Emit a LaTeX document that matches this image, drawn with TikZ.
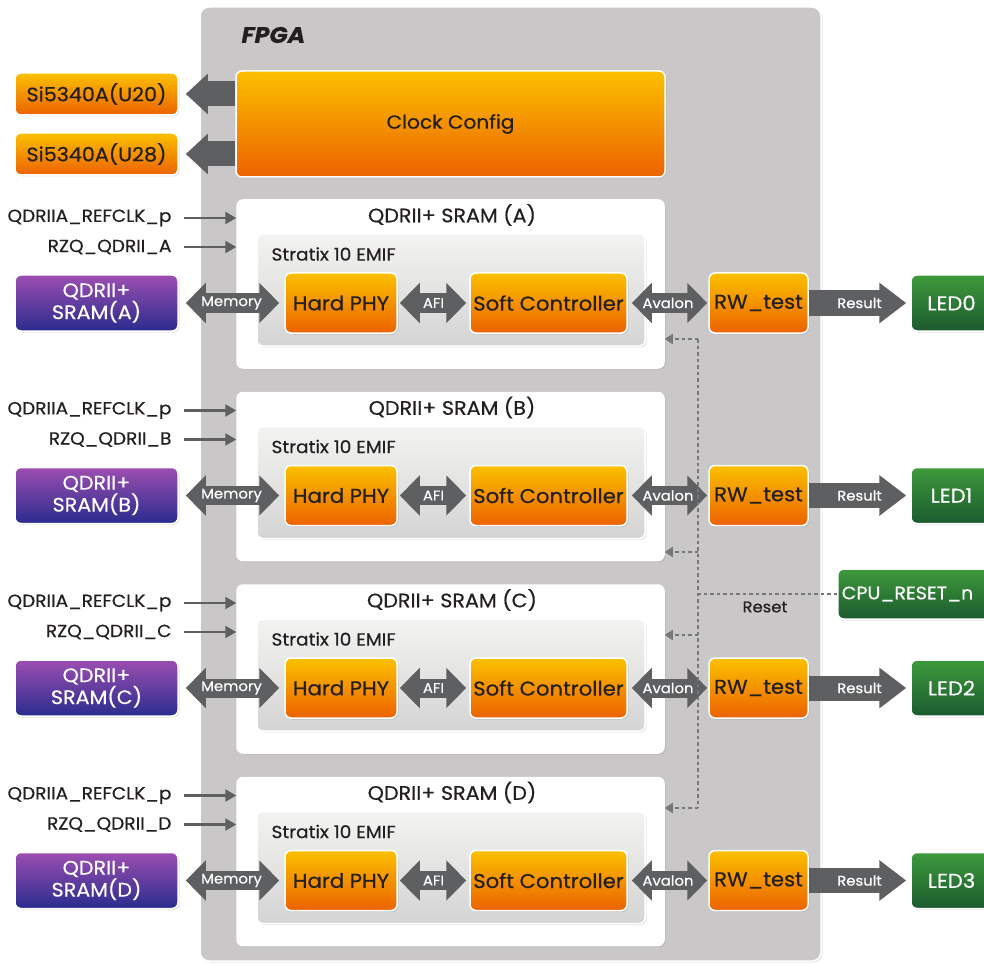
\documentclass[tikz,border=0pt]{standalone}
\usepackage{fontspec}
\setmainfont{Poppins}[FakeStretch=1.06, FakeBold=0.5]
\usetikzlibrary{arrows.meta, shadows}

\definecolor{fpgagray}{HTML}{C9C7C7}
\definecolor{arrowgray}{HTML}{5E5F61}
\definecolor{txtdark}{HTML}{231F20}
\definecolor{orangetop}{HTML}{FBC000}
\definecolor{orangebot}{HTML}{EC6200}
\definecolor{purpletop}{HTML}{9C4EB1}
\definecolor{purplebot}{HTML}{2A2C8E}
\definecolor{greentop}{HTML}{3E9A3B}
\definecolor{greenbot}{HTML}{1B5A2F}
\definecolor{emiftop}{HTML}{F3F3F1}
\definecolor{emifbot}{HTML}{D4D4D4}

\begin{document}
\begin{tikzpicture}[x=1pt, y=-1pt,
    box/.style={rectangle, rounded corners=6pt, inner sep=0pt, draw=white, line width=1.5pt,
        drop shadow={opacity=0.2, shadow xshift=1.5pt, shadow yshift=-1.5pt}},
    orangebox/.style={box, top color=orangetop, bottom color=orangebot, text=txtdark,
        minimum height=60pt, font=\fontsize{20}{24}\selectfont},
    purplebox/.style={box, top color=purpletop, bottom color=purplebot, text=white, align=center,
        minimum width=163pt, minimum height=56pt, font=\fontsize{19.5}{22}\selectfont},
    greenbox/.style={box, top color=greentop, bottom color=greenbot, text=white,
        minimum height=56pt, font=\fontsize{20}{24}\selectfont},
    srambox/.style={box, fill=white, minimum width=427pt, minimum height=168pt},
    emifbox/.style={box, top color=emiftop, bottom color=emifbot, minimum width=388pt, minimum height=112pt},
    titlelbl/.style={text=txtdark, font=\fontsize{19.5}{22}\selectfont},
    emiflbl/.style={anchor=west, text=txtdark, font=\fontsize{17.5}{20}\selectfont},
    inlabel/.style={anchor=east, text=txtdark, font=\fontsize{17.5}{20}\selectfont},
    bigarrow/.style={draw=arrowgray, line width=25pt, -{Triangle[length=22pt, width=39pt]}},
    resultarrow/.style={draw=arrowgray, line width=25pt, -{Triangle[length=27pt, width=39pt]}},
    dblarrow/.style={draw=arrowgray, line width=19pt,
        {Triangle[length=20pt, width=39pt]}-{Triangle[length=20pt, width=39pt]}},
    arrowlbl/.style={text=white, font=\fontsize{14}{16}\selectfont},
    inarrow/.style={draw=arrowgray, line width=2.5pt, -{Triangle[length=11pt, width=12pt]}},
    resetline/.style={draw=arrowgray!85, line width=2.5pt, dash pattern=on 3.5pt off 3pt},
    resetarrow/.style={resetline, -{Triangle[length=8pt, width=10pt]}}]

    \useasboundingbox (0,0) rectangle (984,965);
    \clip (0,0) rectangle (984,965);

    % FPGA
    \node[box, rounded corners=9pt, fill=fpgagray, minimum width=621pt, minimum height=954pt] (fpga) at (510.5,484) {};
    \node[anchor=west, text=txtdark, font=\fontsize{22.5}{26}\selectfont\bfseries\itshape] (fpgalbl) at (238,35) {FPGA};

    % Clock
    \node[box, top color=orangetop, bottom color=orangebot, text=txtdark, minimum width=429pt, minimum height=106pt,
        font=\fontsize{19}{22}\selectfont] (clk) at (450.5,124) {Clock Config};
    \node[box, top color=orangetop, bottom color=orangebot, text=txtdark, minimum width=163pt, minimum height=42pt,
        font=\fontsize{19.5}{22}\selectfont] (u20) at (96.5,94) {Si5340A(U20)};
    \node[box, top color=orangetop, bottom color=orangebot, text=txtdark, minimum width=163pt, minimum height=42pt,
        font=\fontsize{19.5}{22}\selectfont] (u28) at (96.5,154) {Si5340A(U28)};
    \draw[bigarrow, shorten >=7pt] (clk.west |- u20) -- (u20.east);
    \draw[bigarrow, shorten >=7pt] (clk.west |- u28) -- (u28.east);

    % SRAM A
    \node[srambox] (sramA) at (450.5,284) {};
    \node[titlelbl] (titleA) at (452,215) {QDRII+ SRAM (A)};
    \node[emifbox] (emifA) at (451,290) {};
    \node[emiflbl] (emiflblA) at (268,254) {Stratix 10 EMIF};
    \node[orangebox, minimum width=112pt] (phyA) at (341,303) {Hard PHY};
    \node[orangebox, minimum width=157pt] (ctrlA) at (548.5,303) {Soft Controller};
    \node[orangebox, minimum width=99pt] (rwA) at (758.5,303) {RW\_test};
    \node[purplebox] (memA) at (96.5,303) {QDRII+\\SRAM(A)};
    \node[greenbox, minimum width=81pt] (ledA) at (951.5,303) {LED0};
    \node[inlabel] (refA) at (175,218) {QDRIIA\_REFCLK\_p};
    \node[inlabel] (rzqA) at (175,247) {RZQ\_QDRII\_A};
    \draw[inarrow] ([xshift=9pt]refA.east) -- (refA.east -| sramA.west);
    \draw[inarrow] ([xshift=9pt]rzqA.east) -- (rzqA.east -| sramA.west);
    \draw[dblarrow, shorten <=7pt, shorten >=5pt] (memA.east) -- node[arrowlbl] {Memory} (phyA.west);
    \draw[dblarrow, shorten <=2pt, shorten >=3pt] (phyA.east) -- node[arrowlbl] {AFI} (ctrlA.west);
    \draw[dblarrow, shorten <=4pt, shorten >=1pt] (ctrlA.east) -- node[arrowlbl] {Avalon} (rwA.west);
    \draw[resultarrow, shorten >=4pt] (rwA.east) -- node[arrowlbl] {Result} (ledA.west);

    % SRAM B
    \node[srambox] (sramB) at (450.5,476.5) {};
    \node[titlelbl] (titleB) at (452,407.5) {QDRII+ SRAM (B)};
    \node[emifbox] (emifB) at (451,482.5) {};
    \node[emiflbl] (emiflblB) at (268,446.5) {Stratix 10 EMIF};
    \node[orangebox, minimum width=112pt] (phyB) at (341,495.5) {Hard PHY};
    \node[orangebox, minimum width=157pt] (ctrlB) at (548.5,495.5) {Soft Controller};
    \node[orangebox, minimum width=99pt] (rwB) at (758.5,495.5) {RW\_test};
    \node[purplebox] (memB) at (96.5,495.5) {QDRII+\\SRAM(B)};
    \node[greenbox, minimum width=81pt] (ledB) at (951.5,495.5) {LED1};
    \node[inlabel] (refB) at (175,410.5) {QDRIIA\_REFCLK\_p};
    \node[inlabel] (rzqB) at (175,439.5) {RZQ\_QDRII\_B};
    \draw[inarrow] ([xshift=9pt]refB.east) -- (refB.east -| sramB.west);
    \draw[inarrow] ([xshift=9pt]rzqB.east) -- (rzqB.east -| sramB.west);
    \draw[dblarrow, shorten <=7pt, shorten >=5pt] (memB.east) -- node[arrowlbl] {Memory} (phyB.west);
    \draw[dblarrow, shorten <=2pt, shorten >=3pt] (phyB.east) -- node[arrowlbl] {AFI} (ctrlB.west);
    \draw[dblarrow, shorten <=4pt, shorten >=1pt] (ctrlB.east) -- node[arrowlbl] {Avalon} (rwB.west);
    \draw[resultarrow, shorten >=4pt] (rwB.east) -- node[arrowlbl] {Result} (ledB.west);

    % SRAM C
    \node[srambox] (sramC) at (450.5,669) {};
    \node[titlelbl] (titleC) at (452,600) {QDRII+ SRAM (C)};
    \node[emifbox] (emifC) at (451,675) {};
    \node[emiflbl] (emiflblC) at (268,639) {Stratix 10 EMIF};
    \node[orangebox, minimum width=112pt] (phyC) at (341,688) {Hard PHY};
    \node[orangebox, minimum width=157pt] (ctrlC) at (548.5,688) {Soft Controller};
    \node[orangebox, minimum width=99pt] (rwC) at (758.5,688) {RW\_test};
    \node[purplebox] (memC) at (96.5,688) {QDRII+\\SRAM(C)};
    \node[greenbox, minimum width=81pt] (ledC) at (951.5,688) {LED2};
    \node[inlabel] (refC) at (175,603) {QDRIIA\_REFCLK\_p};
    \node[inlabel] (rzqC) at (175,632) {RZQ\_QDRII\_C};
    \draw[inarrow] ([xshift=9pt]refC.east) -- (refC.east -| sramC.west);
    \draw[inarrow] ([xshift=9pt]rzqC.east) -- (rzqC.east -| sramC.west);
    \draw[dblarrow, shorten <=7pt, shorten >=5pt] (memC.east) -- node[arrowlbl] {Memory} (phyC.west);
    \draw[dblarrow, shorten <=2pt, shorten >=3pt] (phyC.east) -- node[arrowlbl] {AFI} (ctrlC.west);
    \draw[dblarrow, shorten <=4pt, shorten >=1pt] (ctrlC.east) -- node[arrowlbl] {Avalon} (rwC.west);
    \draw[resultarrow, shorten >=4pt] (rwC.east) -- node[arrowlbl] {Result} (ledC.west);

    % SRAM D
    \node[srambox] (sramD) at (450.5,861.5) {};
    \node[titlelbl] (titleD) at (452,792.5) {QDRII+ SRAM (D)};
    \node[emifbox] (emifD) at (451,867.5) {};
    \node[emiflbl] (emiflblD) at (268,831.5) {Stratix 10 EMIF};
    \node[orangebox, minimum width=112pt] (phyD) at (341,880.5) {Hard PHY};
    \node[orangebox, minimum width=157pt] (ctrlD) at (548.5,880.5) {Soft Controller};
    \node[orangebox, minimum width=99pt] (rwD) at (758.5,880.5) {RW\_test};
    \node[purplebox] (memD) at (96.5,880.5) {QDRII+\\SRAM(D)};
    \node[greenbox, minimum width=81pt] (ledD) at (951.5,880.5) {LED3};
    \node[inlabel] (refD) at (175,795.5) {QDRIIA\_REFCLK\_p};
    \node[inlabel] (rzqD) at (175,824.5) {RZQ\_QDRII\_D};
    \draw[inarrow] ([xshift=9pt]refD.east) -- (refD.east -| sramD.west);
    \draw[inarrow] ([xshift=9pt]rzqD.east) -- (rzqD.east -| sramD.west);
    \draw[dblarrow, shorten <=7pt, shorten >=5pt] (memD.east) -- node[arrowlbl] {Memory} (phyD.west);
    \draw[dblarrow, shorten <=2pt, shorten >=3pt] (phyD.east) -- node[arrowlbl] {AFI} (ctrlD.west);
    \draw[dblarrow, shorten <=4pt, shorten >=1pt] (ctrlD.east) -- node[arrowlbl] {Avalon} (rwD.west);
    \draw[resultarrow, shorten >=4pt] (rwD.east) -- node[arrowlbl] {Result} (ledD.west);

    % Reset
    \node[box, anchor=west, top color=greentop, bottom color=greenbot, text=white, inner xsep=4pt,
        minimum height=50pt, font=\fontsize{18}{22}\selectfont] (cpu) at (837,594) {\makebox[160pt][l]{CPU\_RESET\_n}};
    \coordinate (rstA) at (698,339);
    \coordinate (rstB) at (698,552);
    \coordinate (rstJ) at (698,594);
    \coordinate (rstC) at (698,635);
    \coordinate (rstD) at (698,808);
    \draw[resetline] (rstA) -- (rstD);
    \draw[resetline] (cpu.west) -- (rstJ);
    \node[text=txtdark, font=\fontsize{15.5}{18}\selectfont] (rstlbl) at (765,607) {Reset};
    \draw[resetarrow] (rstA) -- (rstA -| sramA.east);
    \draw[resetarrow] (rstB) -- (rstB -| sramB.east);
    \draw[resetarrow] (rstC) -- (rstC -| sramC.east);
    \draw[resetarrow] (rstD) -- (rstD -| sramD.east);
\end{tikzpicture}
\end{document}
